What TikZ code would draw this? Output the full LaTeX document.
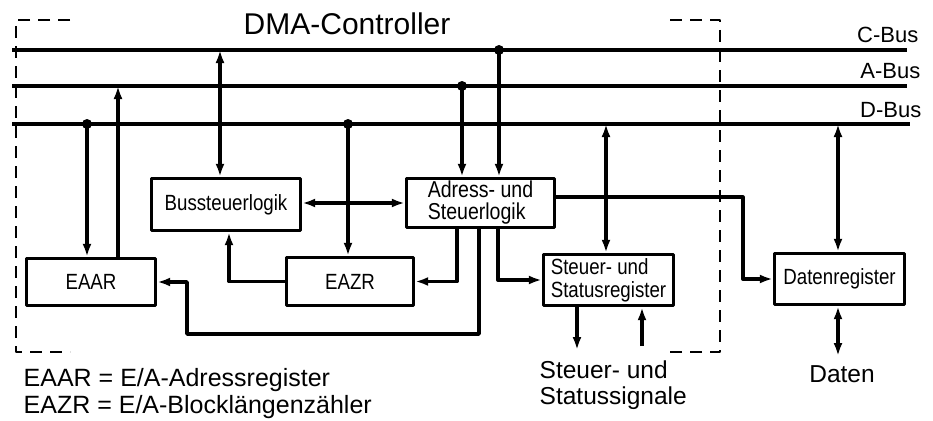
\documentclass[tikz,border=0pt]{standalone}
\usepackage{fontspec}
\setmainfont{Liberation Sans}
\newfontfamily\narrowsans[FakeStretch=0.85]{Liberation Sans}
\usetikzlibrary{arrows.meta}

\begin{document}
\begin{tikzpicture}[line join=round, >={Latex[length=13pt,width=9pt]}, x=1pt, y=-1pt,
        line width=3.4pt,
        reg/.style={draw, rectangle, inner sep=0pt, align=left, font=\narrowsans\fontsize{22}{23}\selectfont},
        buslabel/.style={inner sep=0pt, font=\fontsize{22}{24}\selectfont},
        biglabel/.style={inner sep=0pt, align=left, font=\fontsize{24.5}{26}\selectfont},
        frame/.style={line width=2pt, dash pattern=on 12pt off 8pt}]

        \useasboundingbox (0,0) rectangle (933,420);

        % DMA-Controller frame (top and bottom open in the middle)
        \draw[frame] (70,20) -- (16,20) -- (16,352) -- (70,352);
        \draw[frame] (670,20) -- (720,20) -- (720,352) -- (667,352);
        \node[inner sep=0pt, anchor=base west, font=\fontsize{30}{33}\selectfont] (dmatitle) at (242,35) {DMA-Controller};

        % Buses
        \coordinate (cwest) at (12,50);
        \coordinate (ceast) at (907,50);
        \coordinate (awest) at (12,86);
        \coordinate (aeast) at (907,86);
        \coordinate (dwest) at (12,124);
        \coordinate (deast) at (910,124);
        \draw (cwest) -- (ceast);
        \draw (awest) -- (aeast);
        \draw (dwest) -- (deast);
        \node[buslabel, anchor=base east] (cbus) at (920,42) {C-Bus};
        \node[buslabel, anchor=base east] (abus) at (922,78) {A-Bus};
        \node[buslabel, anchor=base east] (dbus) at (923,117) {D-Bus};

        % Taps on the buses
        \coordinate (cbsl) at (220,50);
        \coordinate (aeaar) at (118,86);
        \coordinate (deaar) at (87,124);
        \coordinate (deazr) at (348,124);
        \coordinate (aasl) at (462,86);
        \coordinate (casl) at (499,50);
        \coordinate (dssr) at (606,124);
        \coordinate (ddr) at (838,124);

        % Registers and logic
        \node[reg, minimum width=149pt, minimum height=52pt] (bsl) at (226,204.5) {Bussteuerlogik};
        \node[reg, minimum width=148pt, minimum height=49pt, font=\narrowsans\fontsize{23}{22}\selectfont] (asl) at (480.5,203) {Adress- und\\Steuerlogik};
        \node[reg, minimum width=127pt, minimum height=48pt] (eazr) at (350,281.5) {EAZR};
        \node[reg, minimum width=129pt, minimum height=47pt] (eaar) at (91,282) {EAAR};
        \node[reg, minimum width=130pt, minimum height=51pt] (ssr) at (608.5,280) {Steuer- und\\Statusregister};
        \node[reg, minimum width=130pt, minimum height=51pt] (dr) at (839.5,279) {Datenregister};

        % Bus connections
        \draw[<->] (cbsl) -- (cbsl |- bsl.north);
        \draw[->] (eaar.north -| aeaar) -- (aeaar);
        \draw[->] (deaar) -- (deaar |- eaar.north);
        \draw[->] (deazr) -- (deazr |- eazr.north);
        \draw[->] (aasl) -- (aasl |- asl.north);
        \draw[->] (casl) -- (casl |- asl.north);
        \draw[<->] (dssr) -- (dssr |- ssr.north);
        \draw[<->] (ddr) -- (ddr |- dr.north);
        \fill (deaar) circle (5pt);
        \fill (deazr) circle (5pt);
        \fill (aasl) circle (5pt);
        \fill (casl) circle (5pt);

        % Internal connections
        \draw[<->] (asl.west -| bsl.east) -- (asl.west);
        \draw[->] ([xshift=17.5pt]asl.south) |- (ssr.west);
        \draw[->] ([xshift=-23.5pt]asl.south) |- (eazr.east);
        \draw[->] ([xshift=-1.5pt]asl.south) |- (187,334) |- (eaar.east);
        \draw[->] (eazr.west) -| ([xshift=3pt]bsl.south);
        \draw[->] ([yshift=6pt]asl.east) -| ([xshift=-30pt]dr.west) -- (dr.west);

        % Outside signals
        \coordinate (sigout) at (577,350);
        \coordinate (sigin) at (642,346);
        \coordinate (datio) at (838,356);
        \draw[->] (ssr.south -| sigout) -- (sigout);
        \draw[->] (sigin) -- (ssr.south -| sigin);
        \draw[<->] (dr.south -| datio) -- (datio);
        \node[biglabel, anchor=north west] (signals) at (538,359) {Steuer- und\\Statussignale};
        \node[biglabel, anchor=base] (daten) at (842,382) {Daten};

        % Legend
        \node[biglabel, anchor=north west, font=\fontsize{25}{27}\selectfont] (legend) at (22,367) {EAAR = E/A-Adressregister\\EAZR = E/A-Blocklängenzähler};

    \end{tikzpicture}
\end{document}
